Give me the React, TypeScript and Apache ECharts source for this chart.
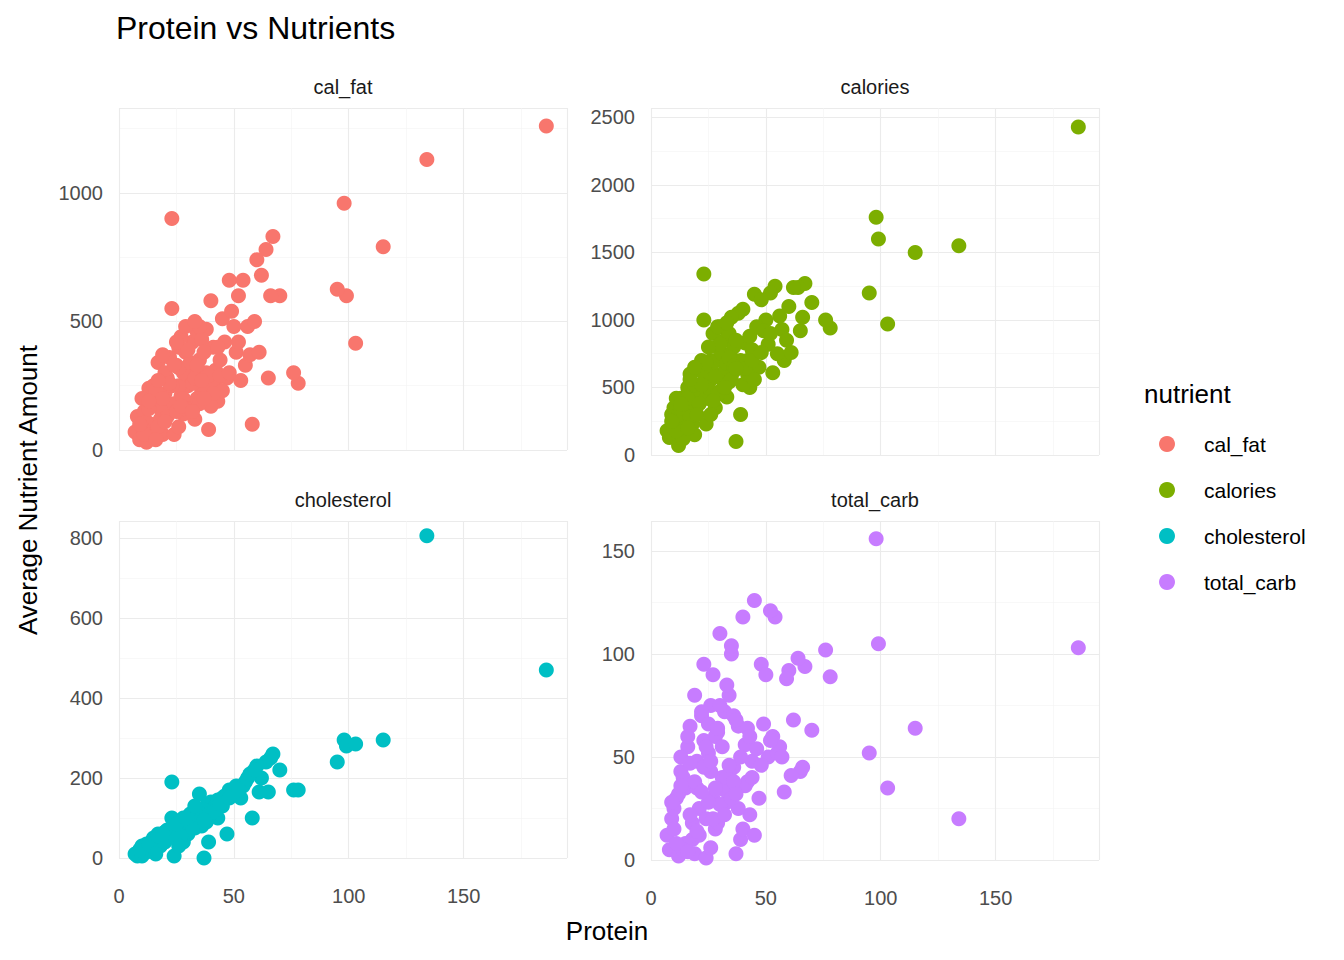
import React, { useEffect, useRef } from "react";
import * as echarts from "echarts";

const protein = [186,134,98,99,115,103,95,23,78,76,70,67,64,60,58,65,62,54,52,45,40,48,50,37,23,13,8,7,9,10,11,12,14,15,16,17,18,19,20,21,22,24,25,26,27,28,29,30,31,32,33,34,35,36,38,39,41,42,43,44,46,47,49,51,53,55,56,57,59,61,66,15,18,20,24,26,28,30,32,34,36,38,40,42,27,22,12,10,45,35,
  13,14,16,17,19,21,23,25,26,28,29,31,33,35,37,39,41,43,20,22,24,27,30,32,34,36,11,9,13,17,19,25,29,33,37,44,48,52,16,26];
const calFat = [1260,1130,960,600,790,415,625,900,260,300,600,830,780,740,100,280,680,660,600,510,580,660,480,250,550,240,130,70,40,200,150,30,100,250,180,340,120,60,220,280,170,60,330,400,210,140,380,250,300,420,120,460,350,230,470,80,400,310,190,350,420,280,540,380,270,330,480,370,500,380,600,80,160,300,180,250,300,170,260,200,430,300,170,250,440,360,110,90,230,480,
  160,60,230,90,200,130,250,150,320,200,160,340,280,180,380,290,220,400,110,260,330,170,390,150,330,270,60,100,190,270,370,420,480,500,200,290,300,420,40,90];
const calories = [2430,1550,1760,1600,1500,970,1200,1340,940,1000,1130,1270,1240,1100,700,920,1240,1250,1200,1190,1080,1150,1000,100,1000,420,130,180,300,350,420,70,250,300,500,600,230,150,400,500,630,230,450,700,600,350,800,950,560,850,430,900,720,620,1050,300,830,700,500,780,950,650,920,820,610,750,1030,930,850,760,1020,200,330,480,420,560,700,470,620,540,800,680,520,600,900,700,300,200,560,1020,
  350,120,420,280,520,380,600,500,650,580,450,750,680,560,850,700,640,880,300,520,680,400,820,500,720,660,180,250,380,560,650,800,950,980,640,700,760,900,200,300];
const cholesterol = [470,805,295,280,295,285,240,190,170,170,220,260,240,230,100,165,200,180,175,150,140,170,170,0,100,25,5,10,20,30,20,15,40,50,50,60,30,55,65,70,60,5,80,90,50,40,70,100,110,85,75,120,105,80,130,40,125,130,100,140,155,60,160,180,150,190,200,210,220,165,250,25,40,45,70,60,100,60,90,95,115,90,110,120,70,55,35,5,130,160,
  30,20,45,35,50,60,75,55,85,80,65,100,100,85,120,110,115,145,40,65,80,55,95,75,105,100,15,20,35,55,60,85,100,130,95,135,150,170,10,30];
const totalCarb = [103,20,156,105,64,35,52,95,89,102,63,94,98,92,33,43,68,118,121,126,118,95,90,3,58,43,5,12,20,25,30,2,40,35,55,65,10,3,48,25,70,1,52,75,30,15,62,110,40,72,28,80,100,45,65,10,56,38,22,48,54,30,66,50,60,52,55,50,88,41,45,8,18,35,20,43,60,27,34,42,70,25,15,64,90,72,32,15,12,104,
  50,5,60,22,38,12,45,28,48,35,18,55,40,30,68,50,36,60,14,33,55,20,75,22,46,38,8,28,36,47,80,66,64,85,32,40,46,58,4,6];

const colors = ["#F8766D", "#7CAE00", "#00BFC4", "#C77CFF"];
const names = ["cal_fat", "calories", "cholesterol", "total_carb"];
const values = [calFat, calories, cholesterol, totalCarb];
const yMax = [1330, 2570, 842, 164.6];
const yInt = [500, 500, 200, 50];
const grids = [
  { left: 119, top: 108, width: 448, height: 342 },
  { left: 651, top: 108, width: 448, height: 347 },
  { left: 119, top: 521, width: 448, height: 337 },
  { left: 651, top: 521, width: 448, height: 339 },
];
const font = "Liberation Sans, Arial, sans-serif";

export default function App() {
  const ref = useRef<HTMLDivElement>(null);
  useEffect(() => {
    const chart = echarts.init(ref.current!, null, { renderer: "svg" });
    const gl = { lineStyle: { color: "#EBEBEB", width: 1.1 } };
    const ml = { show: true, lineStyle: { color: "#F4F4F4", width: 0.6 } };
    chart.setOption({
      animation: false,
      backgroundColor: "#fff",
      grid: grids.map((g) => ({ ...g, containLabel: false })),
      xAxis: grids.map((_, i) => ({
        type: "value", gridIndex: i, min: 0, max: 195, interval: 50,
        axisLine: { show: false }, axisTick: { show: false },
        axisLabel: { show: i >= 2, color: "#4D4D4D", fontSize: 20, fontFamily: font, showMaxLabel: false, margin: 28 },
        splitLine: { show: true, ...gl }, minorTick: { show: false, splitNumber: 2 }, minorSplitLine: ml,
      })),
      yAxis: grids.map((_, i) => ({
        type: "value", gridIndex: i, min: 0, max: yMax[i], interval: yInt[i],
        axisLine: { show: false }, axisTick: { show: false },
        axisLabel: { color: "#4D4D4D", fontSize: 20, fontFamily: font, showMaxLabel: false, margin: 16, formatter: (v: number) => String(v) },
        splitLine: { show: true, ...gl }, minorTick: { show: false, splitNumber: 2 }, minorSplitLine: ml,
      })),
      series: values.map((v, i) => ({
        type: "scatter", name: names[i], xAxisIndex: i, yAxisIndex: i, clip: false,
        symbolSize: 15, itemStyle: { color: colors[i], opacity: 1 },
        data: protein.map((p, k) => [p, v[k]]),
      })),
      graphic: [
        { type: "text", left: 116, top: 12, style: { text: "Protein vs Nutrients", fontSize: 32, fontFamily: font, fill: "#000" } },
        ...names.map((n, i) => ({
          type: "text", x: grids[i].left + 224, y: i < 2 ? 87 : 500,
          style: { text: n, fontSize: 20, fontFamily: font, fill: "#1A1A1A", align: "center", verticalAlign: "middle" },
        })),
        { type: "text", x: 607, y: 931, style: { text: "Protein", fontSize: 26, fontFamily: font, fill: "#000", align: "center", verticalAlign: "middle" } },
        { type: "text", x: 28, y: 490, rotation: Math.PI / 2, style: { text: "Average Nutrient Amount", fontSize: 26, fontFamily: font, fill: "#000", align: "center", verticalAlign: "middle" } },
        { type: "text", x: 1144, y: 394, style: { text: "nutrient", fontSize: 26, fontFamily: font, fill: "#000", verticalAlign: "middle" } },
        ...names.flatMap((n, i) => [
          { type: "circle", shape: { cx: 1167, cy: 444 + i * 46, r: 8 }, style: { fill: colors[i] } },
          { type: "text", x: 1204, y: 444 + i * 46, style: { text: n, fontSize: 21, fontFamily: font, fill: "#000", verticalAlign: "middle" } },
        ]),
      ],
    });
    return () => chart.dispose();
  }, []);
  return <div ref={ref} style={{ position: "fixed", left: 0, top: 0, width: 1344, height: 960 }} />;
}
